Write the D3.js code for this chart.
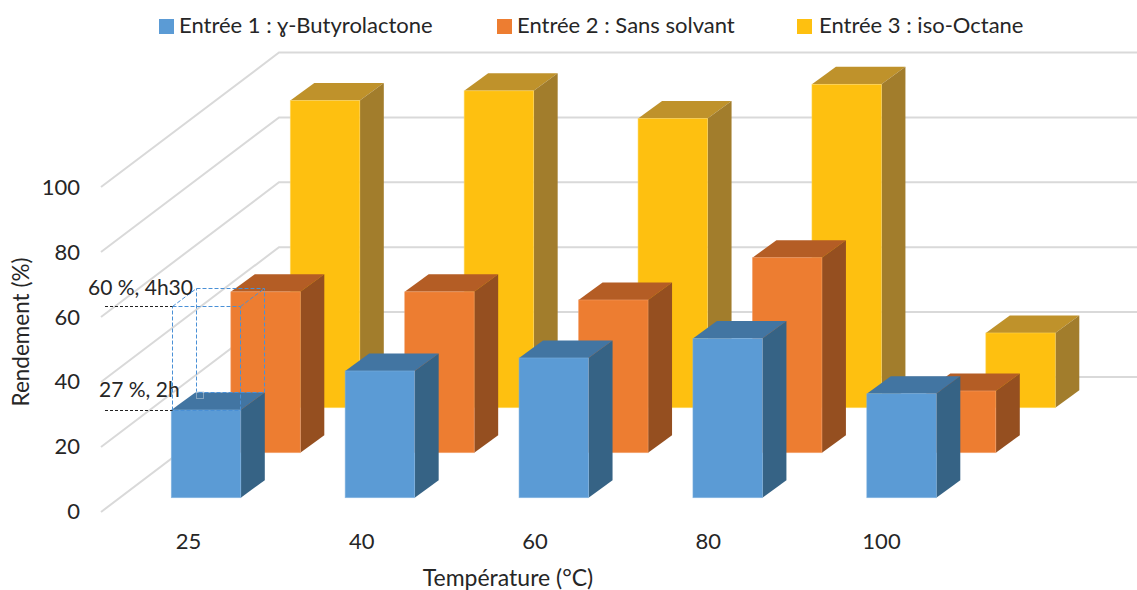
<!DOCTYPE html>
<html lang="fr"><head><meta charset="utf-8">
<script src="https://cdn.jsdelivr.net/npm/d3@7/dist/d3.min.js"></script>
<style>html,body{margin:0;background:#fff}svg{display:block}text{font-family:Lato,"Open Sans",sans-serif;fill:#262626}</style>
</head><body><svg id="c" width="1137" height="590"></svg>
<script>
const categories=["25","40","60","80","100"];
const seriesNames=["Entrée 1 : ɣ-Butyrolactone","Entrée 2 : Sans solvant","Entrée 3 : iso-Octane"];
const blueValues=[27,39,43,49,32];
const orangeValues=[49.5,49.5,47,60,19];
const yellowValues=[94.5,97.5,89,99.5,23];
const gridValues=[0,20,40,60,80,100];
const annotationValues=[27,59];
const annotationLabels=["27 %, 2h","60 %, 4h30"];

const W=1137,H=590,svg=d3.select("#c");
const fs=22;
const all=[blueValues,orangeValues,yellowValues];
const palettes=[
 {f:"#5B9BD5",t:"#4275A2",s:"#366385",e:"#7FB2E0"},
 {f:"#ED7D31",t:"#B45D25",s:"#954F20",e:"#F4A26E"},
 {f:"#FEC010",t:"#BF922B",s:"#A27D2C",e:"#FFD75E"}];
const x=d3.scalePoint().domain(categories).range([171.3,866.8]);
const depthX=d3.scalePoint().domain([0,1,2]).range([0,119]);
const depthY=d3.scalePoint().domain([0,1,2]).range([0,-90]);
const h=d3.scaleLinear().domain([0,100]).range([0,325]);
const barW=69.5,dx=24,dy=-17.5,base0=497.7;
// gridlines
const front=d3.scaleLinear().domain([0,100]).range([512,187]);
const back=d3.scaleLinear().domain([0,100]).range([377,52.5]);
const grid=svg.append("g");
gridValues.forEach(v=>{
  grid.append("polyline").attr("fill","none").attr("stroke","#D9D9D9").attr("stroke-width",2)
   .attr("points",`101,${front(v)} 279,${back(v)} ${W},${back(v)}`);
});
// bars: back row first
function pts(a){return a.map(p=>p.join(",")).join(" ")}
function bar(g,x0,base,hh,c){
  const top=base-hh;
  g.append("polygon").attr("points",pts([[x0,top],[x0+barW,top],[x0+barW+dx,top+dy],[x0+dx,top+dy]])).attr("fill",c.t);
  g.append("polygon").attr("points",pts([[x0+barW,top],[x0+barW+dx,top+dy],[x0+barW+dx,base+dy],[x0+barW,base]])).attr("fill",c.s);
  g.append("rect").attr("x",x0).attr("y",top).attr("width",barW).attr("height",hh).attr("fill",c.f)
   .attr("stroke",c.e).attr("stroke-width",0.75).attr("stroke-opacity",0.7);
}
const bars=svg.append("g");
[2,1,0].forEach(d=>{
  categories.forEach((cat,i)=>{
    bar(bars,x(cat)+depthX(d),base0+depthY(d),h(all[d][i]),palettes[d]);
  });
});
// axes
const yAxis=d3.scaleLinear().domain([0,100]).range([511.5,187.5]);
const ga=svg.append("g").attr("transform","translate(80,0)")
 .call(d3.axisLeft(yAxis).tickValues(gridValues).tickSize(0).tickPadding(0));
ga.select(".domain").remove();
ga.selectAll("text").style("font-size",fs+"px").style("font-family","Lato").attr("fill","#262626");
const xAxis=d3.scalePoint().domain(categories).range([188,881]);
const gb=svg.append("g").attr("transform","translate(0,533)")
 .call(d3.axisBottom(xAxis).tickSize(0).tickPadding(0));
gb.select(".domain").remove();
gb.selectAll("text").style("font-size",fs+"px").style("font-family","Lato").attr("fill","#262626");
svg.append("text").attr("x",508).attr("y",586).attr("text-anchor","middle").style("font-size","23px").text("Température (°C)");
svg.append("text").attr("transform","translate(29,332) rotate(-90)").attr("text-anchor","middle").style("font-size","22.5px").text("Rendement (%)");
// legend
const legendX=[159,497,797];
const legendTextX=[179,517,819];
seriesNames.forEach((n,i)=>{
  svg.append("rect").attr("x",legendX[i]).attr("y",19).attr("width",15).attr("height",15).attr("fill",palettes[i].f);
  svg.append("text").attr("x",legendTextX[i]).attr("y",33).style("font-size",fs+"px").text(n);
});
// annotation
const ax0=172.5;
const yA=annotationValues.map(v=>Math.round(base0-h(v))+0.5);
const ann=svg.append("g").attr("fill","none").attr("stroke","#4A90D6").attr("stroke-width",1).attr("stroke-dasharray","4 2");
const aw=68;
ann.append("rect").attr("x",ax0).attr("y",yA[1]).attr("width",aw).attr("height",yA[0]-yA[1]);
ann.append("rect").attr("x",ax0+dx).attr("y",yA[1]-18).attr("width",aw).attr("height",yA[0]-yA[1]);
ann.append("line").attr("x1",ax0).attr("y1",yA[1]).attr("x2",ax0+dx).attr("y2",yA[1]-18);
ann.append("line").attr("x1",ax0+aw).attr("y1",yA[1]).attr("x2",ax0+aw+dx).attr("y2",yA[1]-18);
svg.append("rect").attr("x",196.5).attr("y",391.5).attr("width",7).attr("height",7).attr("fill","none").attr("stroke","#C8D4DE").attr("stroke-width",1).attr("stroke-opacity",0.5);
const lab=[[99,397],[88,295]];
annotationLabels.forEach((t,i)=>{
  svg.append("line").attr("x1",105).attr("x2",ax0).attr("y1",yA[i]).attr("y2",yA[i]).attr("stroke","#222").attr("stroke-dasharray","3 2");
  svg.append("text").attr("x",lab[i][0]).attr("y",lab[i][1]).style("font-size","21px").text(t);
});
</script></body></html>
